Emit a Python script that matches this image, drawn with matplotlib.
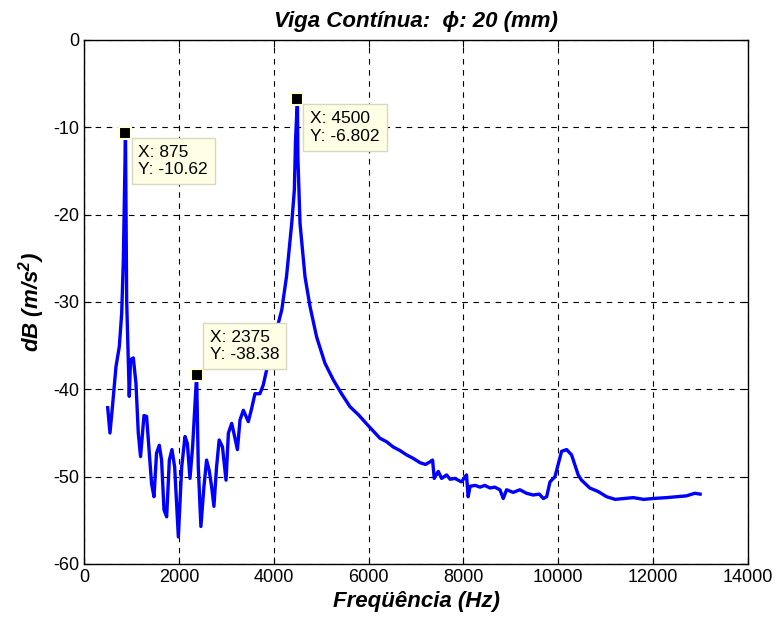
import numpy as np
import matplotlib
matplotlib.use('Agg')
import matplotlib.pyplot as plt

plt.rcParams['font.family'] = ['Liberation Sans', 'DejaVu Sans']
plt.rcParams['mathtext.fontset'] = 'custom'
plt.rcParams['mathtext.rm'] = 'Liberation Sans:bold:italic'
plt.rcParams['mathtext.it'] = 'Liberation Sans:bold:italic'
plt.rcParams['axes.unicode_minus'] = False
plt.rcParams['xtick.direction'] = 'in'
plt.rcParams['ytick.direction'] = 'in'

# espectro medido (Hz, dB)
freq = [500, 548, 600, 675, 745, 795, 830, 875, 900, 955, 982, 1040, 1096, 1145,
        1193, 1265, 1320, 1377, 1425, 1476, 1530, 1588, 1636, 1687, 1743, 1800,
        1855, 1912, 1990, 2060, 2130, 2180, 2235, 2290, 2375, 2410, 2465, 2530,
        2585, 2640, 2690, 2740, 2795, 2850, 2920, 2995, 3045, 3115, 3160, 3235,
        3290, 3360, 3465, 3535, 3605, 3710, 3780, 3850, 3990, 4170, 4270, 4380,
        4435, 4460, 4500, 4510, 4555, 4660, 4765, 4905, 5080, 5255, 5430, 5610,
        5785, 5900, 6000, 6120, 6240, 6380, 6520, 6660, 6800, 6940, 7085, 7200,
        7295, 7350, 7385, 7470, 7540, 7645, 7720, 7820, 7960, 8065, 8100, 8140,
        8250, 8350, 8450, 8560, 8660, 8770, 8840, 8910, 9050, 9190, 9330, 9470,
        9600, 9685, 9755, 9825, 9930, 10070, 10175, 10280, 10420, 10490, 10665,
        10840, 11020, 11200, 11400, 11580, 11800, 12000, 12280, 12500, 12700,
        12880, 12990]
db = [-42.1, -45.0, -42.0, -37.4, -35.1, -31.3, -25.2, -10.62, -29.8, -40.8, -36.6,
      -36.4, -39.3, -45.0, -47.7, -43.0, -43.1, -47.3, -50.8, -52.3, -47.3, -46.4,
      -48.1, -53.8, -54.6, -48.1, -46.9, -48.9, -56.9, -48.9, -45.4, -46.2, -50.2,
      -46.6, -38.38, -48.9, -55.7, -51.1, -48.1, -49.3, -51.1, -53.4, -48.9, -45.8,
      -46.6, -50.4, -45.0, -43.9, -45.0, -46.9, -43.5, -42.4, -43.7, -42.2, -40.5,
      -40.5, -39.5, -37.8, -34.7, -30.9, -27.1, -21.0, -17.2, -11.5, -6.802,
      -13.4, -21.0, -27.1, -30.5, -34.0, -37.0, -38.9, -40.5, -42.0, -42.9, -43.6,
      -44.2, -44.9, -45.6, -46.0, -46.6, -47.0, -47.5, -47.9, -48.4, -48.6, -48.3,
      -48.1, -50.2, -49.4, -50.2, -49.8, -50.3, -50.2, -50.6, -49.8, -52.3, -51.1,
      -51.0, -51.2, -51.0, -51.3, -51.2, -51.5, -52.5, -51.5, -51.8, -51.5, -51.9,
      -52.1, -52.0, -52.5, -52.3, -50.6, -50.0, -47.1, -46.9, -47.5, -49.8, -50.4,
      -51.3, -51.7, -52.3, -52.6, -52.5, -52.4, -52.6, -52.5, -52.4, -52.3, -52.2,
      -51.9, -52.0]

# data tips
tip_x = [875, 2375, 4500]
tip_y = [-10.62, -38.38, -6.802]
tip_txt = ['X: 875\nY: -10.62', 'X: 2375\nY: -38.38', 'X: 4500\nY: -6.802']
tip_off = [(13, -12), (13, 13), (13, -12)]
tip_va = ['top', 'bottom', 'top']

fig = plt.figure(figsize=(7.79, 6.25), dpi=100)
ax = fig.add_axes([0.1078, 0.0976, 0.8524, 0.8384])

ax.plot(freq, db, color='#0000ff', lw=2.4, zorder=3)
ax.plot(tip_x, tip_y, 's', color='black', ms=9, mec='#ffffd8', mew=1.5, zorder=4)
for x, y, t, off, va in zip(tip_x, tip_y, tip_txt, tip_off, tip_va):
    ax.annotate(t, (x, y), xytext=off, textcoords='offset pixels', ha='left', va=va,
                fontsize=12.5, linespacing=1.2, zorder=5,
                bbox=dict(boxstyle='square,pad=0.4', fc='#ffffe6', ec='#d8d8c0', lw=1))

ax.set_xlim(0, 14000)
ax.set_ylim(-60, 0)
ax.set_xticks(np.arange(0, 14001, 2000))
ax.set_yticks(np.arange(-60, 1, 10))
ax.tick_params(labelsize=13, top=True, right=True, length=5)
ax.grid(True, color='black', ls=(0, (5, 5)), lw=0.8)
for s in ax.spines.values():
    s.set_linewidth(1)

ax.set_title('Viga Contínua:  ϕ: 20 (mm)', fontsize=16, fontweight='bold',
             fontstyle='italic', pad=9)
ax.set_xlabel('Freqüência (Hz)', fontsize=16, fontweight='bold', fontstyle='italic',
              labelpad=4)
ax.set_ylabel('dB (m/s$^{2}$)', fontsize=16, fontweight='bold', fontstyle='italic')

fig.savefig('out.png', dpi=100)
